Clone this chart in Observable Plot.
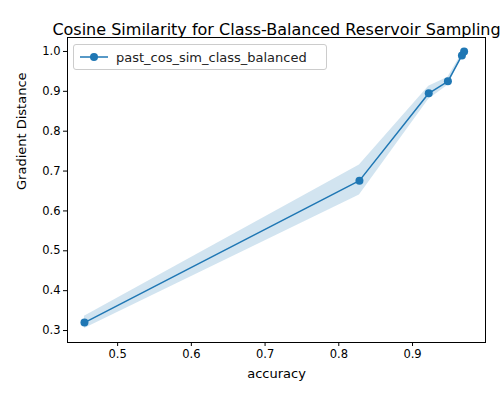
<!DOCTYPE html>
<html>
<head>
<script src="https://cdn.jsdelivr.net/npm/d3@7"></script>
<script src="https://cdn.jsdelivr.net/npm/@observablehq/plot@0.6"></script>
<style>
body { margin: 0; background: #fff; font-family: "DejaVu Sans", sans-serif; }
#wrap { position: relative; width: 500px; height: 400px; }
#legend { position: absolute; left: 73px; top: 44px; width: 252px; height: 24px; border: 1px solid #ccc; border-radius: 3px; background: rgba(255,255,255,0.8); font-size: 13px; color: #222; display: flex; align-items: center; }
#legend svg { margin: 0 8px 0 6px; }
</style>
</head>
<body>
<div id="wrap">
<div id="chart"></div>
<div id="legend"><svg width="28" height="10"><line x1="0" y1="5" x2="28" y2="5" stroke="#1f77b4" stroke-width="1.5"/><circle cx="14" cy="5" r="4" fill="#1f77b4"/></svg>past_cos_sim_class_balanced</div>
</div>
<script>
const accuracy = [0.455, 0.828, 0.922, 0.948, 0.967, 0.970]
const distance = [0.320, 0.676, 0.895, 0.925, 0.990, 1.000]
const lower    = [0.305, 0.640, 0.880, 0.915, 0.985, 0.995]
const upper    = [0.336, 0.715, 0.913, 0.935, 0.995, 1.005]

const data = accuracy.map((a, i) => ({a, d: distance[i], lo: lower[i], hi: upper[i]}))

let chart = Plot.plot({
  width: 500,
  height: 400,
  marginLeft: 67,
  marginRight: 15,
  marginTop: 37,
  marginBottom: 58,
  x: { domain: [0.432, 0.999], ticks: [0.5, 0.6, 0.7, 0.8, 0.9], tickFormat: d3.format(".1f"), label: null },
  y: { domain: [0.27, 1.035], ticks: [0.3, 0.4, 0.5, 0.6, 0.7, 0.8, 0.9, 1.0], tickFormat: d3.format(".1f"), label: null },
  marks: [
    Plot.areaY(data, { x: 'a', y1: 'lo', y2: 'hi', fill: '#1f77b4', fillOpacity: 0.2 }),
    Plot.line(data, { x: 'a', y: 'd', stroke: '#1f77b4', strokeWidth: 1.5 }),
    Plot.dot(data, { x: 'a', y: 'd', fill: '#1f77b4', r: 4 }),
    Plot.frame({ stroke: '#000' }),
    Plot.axisX({ tickSize: 4, fontSize: 11.5, tickPadding: 3 }),
    Plot.axisY({ tickSize: 4, fontSize: 11.5, tickPadding: 3 }),
    Plot.text(['accuracy'], { frameAnchor: 'bottom', dy: 35, fontSize: 13 }),
    Plot.text(['Gradient Distance'], { frameAnchor: 'left', dx: -46, rotate: -90, fontSize: 13 }),
    Plot.text(['Cosine Similarity for Class-Balanced Reservoir Sampling'], { frameAnchor: 'top', dy: -14, fontSize: 16 })
  ],
  style: { background: '#ffffff', color: '#000', fontFamily: 'DejaVu Sans', overflow: 'visible' }
})
d3.select('#chart').append(() => chart)
</script>
</body>
</html>
